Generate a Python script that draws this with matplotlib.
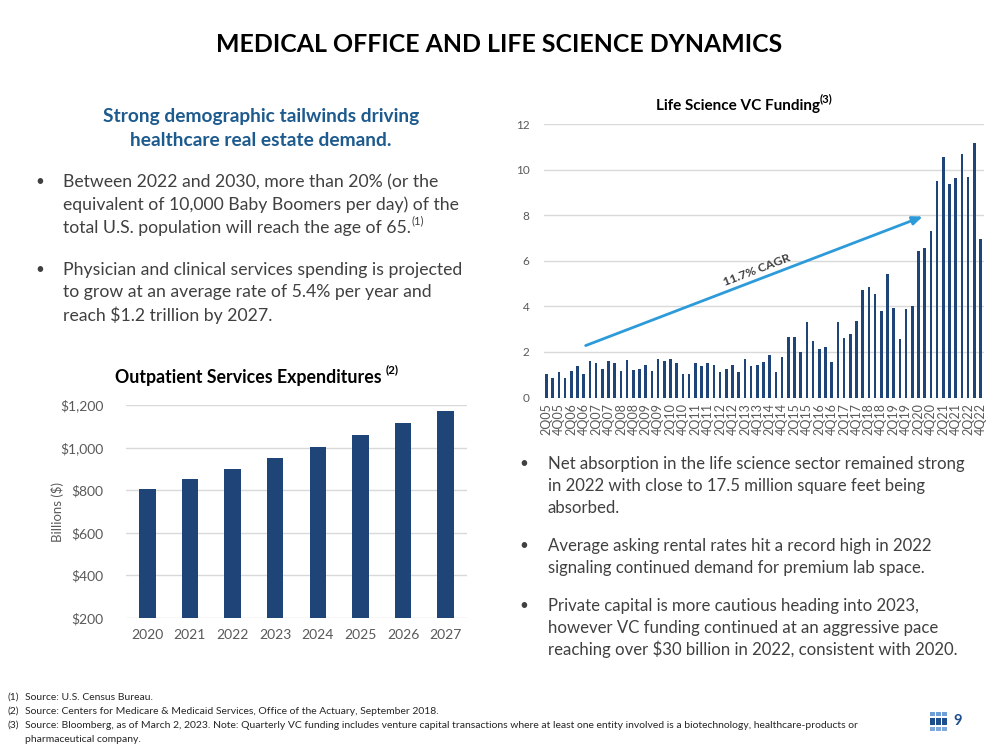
import matplotlib
matplotlib.use("Agg")
import matplotlib.pyplot as plt
from matplotlib.patches import Rectangle
from matplotlib.text import Annotation

# ---------------- data ----------------
out_years = ["2020", "2021", "2022", "2023", "2024", "2025", "2026", "2027"]
out_values = [806, 853, 900, 949, 1003, 1060, 1116, 1171]
out_yticks = [200, 400, 600, 800, 1000, 1200]
out_yticklabels = ["$200", "$400", "$600", "$800", "$1,000", "$1,200"]

vc_values = [1.02, 0.86, 1.10, 0.84, 1.17, 1.38, 1.02, 1.60, 1.50, 1.26,
             1.60, 1.50, 1.16, 1.63, 1.20, 1.24, 1.43, 1.16, 1.69, 1.60,
             1.71, 1.52, 1.02, 1.03, 1.52, 1.38, 1.53, 1.44, 1.14, 1.24,
             1.44, 1.12, 1.69, 1.37, 1.42, 1.54, 1.85, 1.11, 1.76, 2.65,
             2.65, 2.01, 3.31, 2.49, 2.15, 2.20, 1.57, 3.30, 2.61, 2.78,
             3.38, 4.72, 4.84, 4.56, 3.79, 5.44, 3.91, 2.56, 3.90, 4.04,
             6.45, 6.58, 7.30, 9.49, 10.58, 9.38, 9.63, 10.71, 9.67, 11.16,
             6.97]
vc_ticklabels = ["2Q05", "4Q05", "2Q06", "4Q06", "2Q07", "4Q07", "2Q08", "4Q08",
                 "2Q09", "4Q09", "2Q10", "4Q10", "2Q11", "4Q11", "2Q12", "4Q12",
                 "2Q13", "4Q13", "2Q14", "4Q14", "2Q15", "4Q15", "2Q16", "4Q16",
                 "2Q17", "4Q17", "2Q18", "4Q18", "2Q19", "4Q19", "2Q20", "4Q20",
                 "2Q21", "4Q21", "2Q22", "4Q22"]
vc_yticks = [0, 2, 4, 6, 8, 10, 12]
cagr_start = (6.3, 2.28)
cagr_end = (60.7, 7.95)
cagr_label = "11.7% CAGR"

# ---------------- style ----------------
FONT = ["Lato", "DejaVu Sans"]
plt.rcParams["font.family"] = FONT
BAR = "#1f4477"
HEAD_BLUE = "#1d5a8e"
TXT = "#404040"
TICK = "#595959"
GRID = "#d9d9d9"
ARROW = "#2d9ad9"

W, H = 999, 750
fig = plt.figure(figsize=(W / 100, H / 100), dpi=100)


def fx(x):
    return x / W


def fy(y):
    return 1 - y / H


def ftext(x, y, s, **kw):
    kw.setdefault("color", TXT)
    kw.setdefault("va", "center")
    return fig.text(fx(x), fy(y), s, **kw)


def sup(artist, s, size, color, dx=1.0, weight="normal"):
    fig.add_artist(Annotation(
        s, xy=(1.0, 0.6), xycoords=artist, xytext=(dx, 0),
        textcoords="offset points", fontsize=size, color=color,
        fontweight=weight, ha="left", va="bottom", fontfamily=FONT))


# ---------- title ----------
ftext(499.5, 44, "MEDICAL OFFICE AND LIFE SCIENCE DYNAMICS", ha="center",
      fontsize=17.9, fontweight="bold", color="black")

# ---------- left heading ----------
ftext(261, 116.5, "Strong demographic tailwinds driving", ha="center",
      fontsize=13.8, fontweight="bold", color=HEAD_BLUE)
ftext(261, 141, "healthcare real estate demand.", ha="center",
      fontsize=13.8, fontweight="bold", color=HEAD_BLUE)

# ---------- left bullets ----------
LSIZE = 12.7
left_lines = [
    (182, "Between 2022 and 2030, more than 20% (or the", True),
    (205, "equivalent of 10,000 Baby Boomers per day) of the", False),
    (228, "total U.S. population will reach the age of 65.", False),
    (270, "Physician and clinical services spending is projected", True),
    (292.5, "to grow at an average rate of 5.4% per year and", False),
    (315, "reach $1.2 trillion by 2027.", False),
]
for y, s, bullet in left_lines:
    t = ftext(63, y, s, ha="left", fontsize=LSIZE)
    if bullet:
        ftext(40, y, "\u2022", ha="center", fontsize=11)
    if s.endswith("65."):
        sup(t, "(1)", 8, TXT, dx=0.5)

# ---------- left chart ----------
axL = fig.add_axes([fx(126), fy(618), fx(467) - fx(126), fy(405) - fy(618)])
axL.bar(range(len(out_years)), out_values, width=0.39, color=BAR, zorder=3)
axL.set_ylim(200, 1200)
axL.set_xlim(-0.5, len(out_years) - 0.5)
axL.set_yticks(out_yticks)
axL.set_yticklabels(out_yticklabels)
axL.set_xticks(range(len(out_years)))
axL.set_xticklabels(out_years)
axL.grid(axis="y", color=GRID, linewidth=1, zorder=0)
for sp in axL.spines.values():
    sp.set_visible(False)
axL.tick_params(axis="both", length=0, labelsize=10, colors=TICK, pad=8)
axL.tick_params(axis="y", pad=16)
ftext(57, 512, "Billions ($)", ha="center", rotation=90, fontsize=9.5, color=TICK)
tl = ftext(248, 377, "Outpatient Services Expenditures", ha="center",
           fontsize=12.8, fontweight="bold", color="black")
sup(tl, "(2)", 8.5, "black", dx=3, weight="bold")

# ---------- right chart ----------
axR = fig.add_axes([fx(543.5), fy(397.5), fx(983.5) - fx(543.5), fy(124.3) - fy(397.5)])
n = len(vc_values)
axR.bar(range(n), vc_values, width=0.42, color=BAR, zorder=3)
axR.set_xlim(-0.5, n - 0.5)
axR.set_ylim(0, 12)
axR.set_yticks(vc_yticks)
axR.set_xticks(range(0, n, 2))
axR.set_xticklabels(vc_ticklabels, rotation=90)
axR.grid(axis="y", color=GRID, linewidth=1, zorder=0)
for sp in axR.spines.values():
    sp.set_visible(False)
axR.tick_params(axis="y", length=0, labelsize=8.5, colors=TICK, pad=10)
axR.tick_params(axis="x", length=0, labelsize=9, colors=TICK, pad=4)
axR.annotate("", xy=cagr_end, xytext=cagr_start,
             arrowprops=dict(arrowstyle="-|>,head_length=0.6,head_width=0.25",
                             color=ARROW, lw=2, shrinkA=0, shrinkB=0), zorder=4)
axR.text(34.0, 5.6, cagr_label, rotation=21, ha="center", va="center",
         fontsize=8.8, fontweight="bold", color=TXT, rotation_mode="anchor")
tr = ftext(737.5, 106, "Life Science VC Funding", ha="center", fontsize=11,
           fontweight="bold", color="black")
sup(tr, "(3)", 8, "black", dx=0.3, weight="bold")

# ---------- right bullets ----------
RSIZE = 12.1
right_lines = [
    (464, "Net absorption in the life science sector remained strong", True),
    (486, "in 2022 with close to 17.5 million square feet being", False),
    (508, "absorbed.", False),
    (546, "Average asking rental rates hit a record high in 2022", True),
    (567.5, "signaling continued demand for premium lab space.", False),
    (606, "Private capital is more cautious heading into 2023,", True),
    (627.5, "however VC funding continued at an aggressive pace", False),
    (649, "reaching over $30 billion in 2022, consistent with 2020.", False),
]
for y, s, bullet in right_lines:
    ftext(548, y, s, ha="left", fontsize=RSIZE)
    if bullet:
        ftext(523.5, y, "\u2022", ha="center", fontsize=11)

# ---------- footnotes ----------
notes = [
    (697, "(1)", "Source: U.S. Census Bureau."),
    (711, "(2)", "Source: Centers for Medicare & Medicaid Services, Office of the Actuary, September 2018."),
    (725, "(3)", "Source: Bloomberg, as of March 2, 2023. Note: Quarterly VC funding includes venture capital transactions where at least one entity involved is a biotechnology, healthcare-products or"),
    (739, "", "pharmaceutical company."),
]
for y, num, s in notes:
    if num:
        ftext(8, y, num, ha="left", fontsize=7.5, color="#262626")
    ftext(25, y, s, ha="left", fontsize=7.5, color="#262626")

# ---------- logo ----------
sq_rows = [(712, 4, "#6f9fd6"), (718, 7, "#1f4e8c"), (727, 4, "#7fa9dc")]
for ytop, h, c in sq_rows:
    for xl in (930, 936, 942):
        fig.add_artist(Rectangle((fx(xl), fy(ytop + h)), 5 / W, h / H,
                                 transform=fig.transFigure, color=c, lw=0))
ftext(958, 721, "9", ha="center", fontsize=10.5, fontweight="bold", color="#1f4e8c")

fig.savefig("out.png", dpi=100)
